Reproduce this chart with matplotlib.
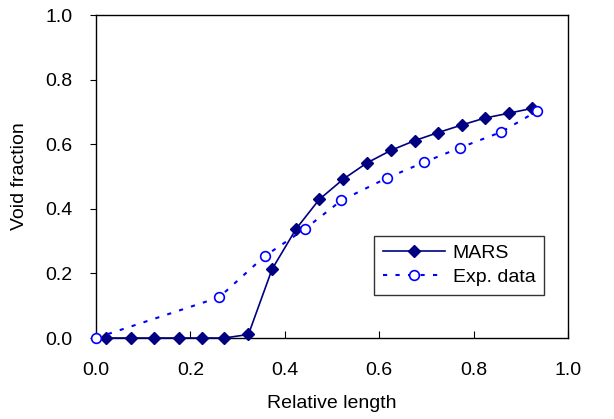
import matplotlib
matplotlib.use("Agg")
import matplotlib.pyplot as plt

plt.rcParams['font.family'] = ['Liberation Sans', 'DejaVu Sans']

mars_x = [0.022, 0.074, 0.123, 0.175, 0.224, 0.272, 0.323, 0.373, 0.424, 0.473,
          0.524, 0.574, 0.625, 0.675, 0.725, 0.776, 0.824, 0.875, 0.924]
mars_y = [0.0, 0.0, 0.0, 0.0, 0.0, 0.0, 0.011, 0.213, 0.338, 0.429,
          0.492, 0.542, 0.581, 0.611, 0.636, 0.660, 0.681, 0.696, 0.711]
exp_x = [0.0, 0.261, 0.357, 0.442, 0.520, 0.616, 0.695, 0.771, 0.859, 0.935]
exp_y = [0.0, 0.126, 0.253, 0.337, 0.426, 0.495, 0.544, 0.589, 0.638, 0.703]
xticks = [0.0, 0.2, 0.4, 0.6, 0.8, 1.0]
yticks = [0.0, 0.2, 0.4, 0.6, 0.8, 1.0]

fig = plt.figure(figsize=(6.14, 4.19), dpi=100)
ax = fig.add_axes([96/614, 1-338/419, 472/614, 323/419])

ax.plot(mars_x, mars_y, color='#000080', lw=1.2, marker='D', ms=6,
        markerfacecolor='#000080', markeredgecolor='#000080', label='MARS', clip_on=False, zorder=3)
ax.plot(exp_x, exp_y, color='#0000FF', lw=1.5, ls=(0, (2, 4)), marker='o', ms=7,
        markerfacecolor='white', markeredgecolor='#0000FF', markeredgewidth=1.2,
        label='Exp. data', clip_on=False, zorder=4)

ax.set_xlim(0, 1.0)
ax.set_ylim(0, 1.0)
ax.set_xticks(xticks)
ax.set_yticks(yticks)
ax.set_xticklabels([f'{v:.1f}' for v in xticks])
ax.set_yticklabels([f'{v:.1f}' for v in yticks])
ax.tick_params(axis='x', direction='in', length=5, labelsize=14, pad=17)
ax.tick_params(axis='y', direction='out', length=4, labelsize=14, pad=13)
for s in ax.spines.values():
    s.set_color('black')
    s.set_linewidth(1.0)
ax.set_xlabel('Relative length', fontsize=14, labelpad=12)
ax.set_ylabel('Void fraction', fontsize=14, labelpad=12)

leg = ax.legend(loc='lower left', bbox_to_anchor=(0.589, 0.133), borderaxespad=0,
                fontsize=14, frameon=True, fancybox=False, edgecolor='black',
                handlelength=3.2, handletextpad=0.4, borderpad=0.45, labelspacing=0.35)
leg.get_frame().set_linewidth(1.0)

fig.savefig('out.png', dpi=100)
